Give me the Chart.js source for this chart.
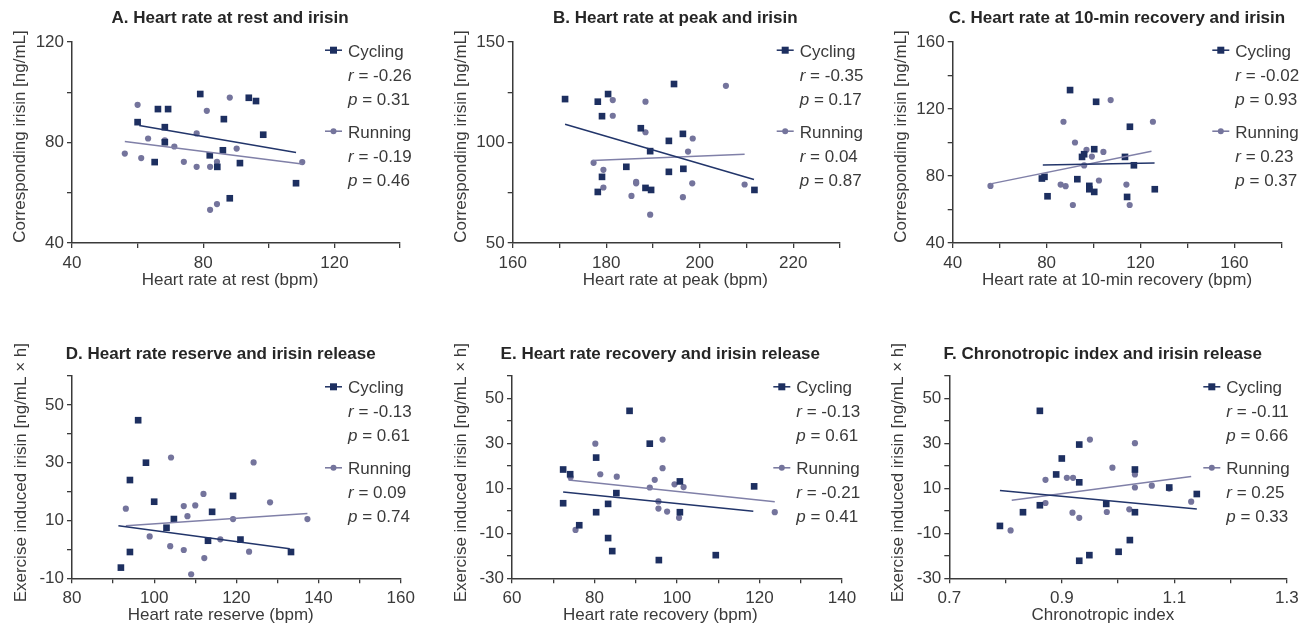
<!DOCTYPE html>
<html>
<head>
<meta charset="utf-8">
<script src="https://cdn.jsdelivr.net/npm/chart.js@4.4.1/dist/chart.umd.min.js"></script>
<style>
  html, body { margin: 0; padding: 0; background: #fff; }
  #wrap { position: relative; width: 1309px; height: 628px; overflow: hidden; }
  #wrap canvas { position: absolute; }
</style>
</head>
<body>
<div id="wrap"></div>
<script>
// ---- data: [x, y] pairs ----
const restCycling = [[60.0,88.1],[66.2,93.3],[69.3,93.3],[68.3,86.1],[68.3,80.1],[65.2,72.2],[79.1,99.3],[86.3,89.3],[93.9,97.8],[96.1,96.5],[98.3,83.1],[86.0,76.9],[82.0,74.9],[84.3,70.3],[91.2,71.8],[88.1,57.8],[108.3,63.8]];
const restRunning = [[56.1,75.6],[60.0,95.0],[61.1,73.8],[63.2,81.6],[68.3,80.9],[71.2,78.4],[74.1,72.3],[78.0,83.6],[78.0,70.3],[81.1,92.6],[82.1,70.3],[84.2,72.3],[88.1,97.9],[90.2,77.6],[110.2,72.2],[84.2,55.5],[82.1,53.2]];
const restCyclingFit = [[60.5,86.8],[108.3,76.0]];
const restRunningFit = [[56.1,80.4],[110.2,71.4]];

const peakCycling = [[171.2,121.6],[178.2,120.3],[180.4,124.1],[179.1,113.1],[194.5,129.1],[187.4,107.1],[193.4,100.8],[196.4,104.3],[189.4,95.7],[184.3,87.9],[179.1,82.9],[178.2,75.4],[188.4,77.4],[189.6,76.4],[193.4,85.4],[196.5,86.9],[211.7,76.4]];
const peakRunning = [[181.4,121.1],[181.4,113.3],[188.4,120.3],[205.6,128.2],[188.4,105.1],[198.5,102.0],[197.5,95.5],[177.3,89.9],[179.4,86.4],[186.4,80.4],[186.4,79.7],[179.4,77.6],[185.4,73.4],[198.4,79.7],[196.4,72.8],[189.4,64.1],[209.6,79.1]];
const peakCyclingFit = [[171.2,109.1],[211.6,81.6]];
const peakRunningFit = [[177.0,91.0],[209.6,94.2]];

const recCycling = [[90.0,131.3],[101.1,124.3],[115.5,109.4],[100.3,96.0],[96.0,93.0],[95.1,91.4],[113.4,91.4],[117.2,86.4],[78.0,78.5],[79.1,79.5],[93.1,78.1],[98.2,74.1],[98.2,72.1],[100.3,70.5],[80.4,67.9],[114.3,67.5],[126.1,72.1]];
const recRunning = [[56.1,74.1],[87.2,112.4],[107.3,125.3],[125.3,112.4],[92.1,100.0],[97.0,95.6],[104.2,94.4],[99.3,91.6],[96.0,86.3],[86.0,74.9],[88.1,73.9],[102.3,77.3],[114.0,74.9],[91.2,62.7],[115.4,62.7]];
const recCyclingFit = [[78.4,86.6],[126.0,87.8]];
const recRunningFit = [[56.1,75.3],[124.7,94.8]];

const resCycling = [[96.1,44.7],[98.0,30.0],[94.1,24.0],[100.0,16.5],[104.8,10.5],[103.0,7.5],[114.1,13.0],[119.2,18.5],[113.1,3.0],[121.0,3.4],[94.1,-0.9],[91.9,-6.3],[133.3,-0.9]];
const resRunning = [[104.1,31.8],[124.2,30.1],[112.0,19.2],[128.2,16.3],[107.2,15.0],[110.0,15.2],[93.1,14.1],[108.1,11.5],[119.2,10.5],[137.3,10.5],[98.9,4.5],[116.1,3.5],[103.9,1.1],[107.2,-0.2],[123.1,-0.8],[112.2,-3.0],[109.0,-8.6]];
const resCyclingFit = [[91.3,8.2],[133.0,0.2]];
const resRunningFit = [[93.1,8.2],[137.3,12.4]];

const hrrCycling = [[88.5,44.5],[93.4,29.9],[80.4,23.7],[72.4,18.4],[74.1,16.3],[100.7,13.1],[118.7,10.9],[85.3,7.9],[72.4,3.4],[83.3,3.1],[80.4,-0.6],[100.7,-0.6],[76.3,-6.4],[83.3,-12.1],[84.3,-17.9],[95.6,-21.9],[109.4,-19.7]];
const hrrRunning = [[80.2,29.9],[96.5,31.7],[96.5,19.0],[81.4,16.3],[85.4,15.2],[74.2,14.9],[94.6,13.8],[93.4,10.4],[99.4,11.8],[101.6,10.6],[95.5,4.2],[95.5,1.0],[97.6,-0.3],[100.5,-3.1],[123.7,-0.6],[75.4,-8.5]];
const hrrCyclingFit = [[72.4,8.4],[118.5,-0.2]];
const hrrRunningFit = [[73.7,13.7],[123.7,4.1]];

const ciCycling = [[0.861,44.5],[0.931,29.5],[0.900,23.3],[0.890,16.2],[0.931,12.7],[1.030,18.4],[1.091,10.4],[1.140,7.5],[0.861,2.5],[0.979,3.1],[0.831,-0.6],[1.030,-0.6],[0.790,-6.7],[1.021,-13.0],[1.001,-18.2],[0.949,-19.7],[0.931,-22.2]];
const ciRunning = [[0.950,31.7],[1.030,30.1],[0.990,19.2],[1.030,16.2],[0.909,14.7],[0.920,14.7],[0.871,13.8],[1.060,11.2],[1.030,10.4],[1.091,9.9],[0.871,3.5],[1.130,4.1],[0.919,-0.8],[0.980,-0.5],[1.020,0.7],[0.931,-3.1],[0.809,-8.7]];
const ciCyclingFit = [[0.790,9.1],[1.140,0.8]];
const ciRunningFit = [[0.811,4.7],[1.130,15.3]];

// stats printed in each legend
const rCycling = ['-0.26', '-0.35', '-0.02', '-0.13', '-0.13', '-0.11'];
const pCycling = ['0.31', '0.17', '0.93', '0.61', '0.61', '0.66'];
const rRunning = ['-0.19', '0.04', '0.23', '0.09', '-0.21', '0.25'];
const pRunning = ['0.46', '0.87', '0.37', '0.74', '0.41', '0.33'];

// text
const panelTitles = [
  'A. Heart rate at rest and irisin',
  'B. Heart rate at peak and irisin',
  'C. Heart rate at 10-min recovery and irisin',
  'D. Heart rate reserve and irisin release',
  'E. Heart rate recovery and irisin release',
  'F. Chronotropic index and irisin release'
];
const xTitles = [
  'Heart rate at rest (bpm)',
  'Heart rate at peak (bpm)',
  'Heart rate at 10-min recovery (bpm)',
  'Heart rate reserve (bpm)',
  'Heart rate recovery (bpm)',
  'Chronotropic index'
];
const yTitles = [
  'Corresponding irisin [ng/mL]',
  'Corresponding irisin [ng/mL]',
  'Corresponding irisin [ng/mL]',
  'Exercise induced irisin [ng/mL \u00d7 h]',
  'Exercise induced irisin [ng/mL \u00d7 h]',
  'Exercise induced irisin [ng/mL \u00d7 h]'
];

// labelled ticks (the others are unlabelled minor ticks)
const xTickLabels = [[40, 80, 120], [160, 180, 200, 220], [40, 80, 120, 160], [80, 100, 120, 140, 160], [60, 80, 100, 120, 140], [0.7, 0.9, 1.1, 1.3]];
const yTickLabels = [[40, 80, 120], [50, 100, 150], [40, 80, 120, 160], [-10, 10, 30, 50], [-30, -10, 10, 30, 50], [-30, -10, 10, 30, 50]];

// ---- layout (page pixels) ----
const panels = [
  { cv: [0, 0, 440, 314],   plot: [72, 42, 400, 243],      x: [40, 140, 20],   y: [40, 120, 20],  titleX: 230,    lineX: 325,    legY: 56.7 },
  { cv: [430, 0, 440, 314], plot: [512.7, 42, 840, 243],   x: [160, 230, 10],  y: [50, 150, 25],  titleX: 675.3,  lineX: 776.7,  legY: 56.7 },
  { cv: [860, 0, 449, 314], plot: [952.7, 42, 1281.3, 243], x: [40, 180, 20],  y: [40, 160, 20],  titleX: 1117,   lineX: 1212.3, legY: 56.7 },
  { cv: [0, 314, 440, 314], plot: [72, 376, 400.7, 578.3], x: [80, 160, 10],   y: [-10, 60, 10],  titleX: 220.7,  lineX: 325,    legY: 393.3 },
  { cv: [430, 314, 440, 314], plot: [512, 376, 842, 578.3], x: [60, 140, 10],  y: [-30, 60, 10],  titleX: 660.3,  lineX: 773.3,  legY: 393.3 },
  { cv: [860, 314, 449, 314], plot: [949.3, 376, 1286.8, 578.3], x: [0.7, 1.3, 0.1], y: [-30, 60, 10], titleX: 1102.8, lineX: 1203.3, legY: 393.3 }
];
const Y_AXIS_W = 44;   // room for the y tick labels
const X_AXIS_H = 34;   // room for the x tick labels

const FONT = "'Liberation Sans', Arial, Helvetica, sans-serif";
const INK = '#3a3a3a';
const NAVY = '#1d2f60';
const LAV = '#74749c';
const NAVY_LINE = '#22356a';
const LAV_LINE = '#8080a8';

const pts = arr => arr.map(p => ({ x: p[0], y: p[1] }));
const fmt = v => Number.isInteger(Math.round(v * 1000) / 1000) ? String(Math.round(v)) : v.toFixed(1);

// titles, axis titles and the little legend with r / p
const panelText = {
  id: 'panelText',
  afterDraw(chart, args, o) {
    const ctx = chart.ctx;
    ctx.save();
    ctx.fillStyle = '#262626';
    ctx.textAlign = 'center';
    ctx.textBaseline = 'alphabetic';
    ctx.font = 'bold 17px ' + FONT;
    ctx.fillText(o.title, o.titleX, o.titleY);

    ctx.fillStyle = INK;
    ctx.font = '17px ' + FONT;
    ctx.fillText(o.xTitle, o.titleX, o.xTitleY);

    ctx.save();
    ctx.translate(o.yTitleX, o.yTitleY);
    ctx.rotate(-Math.PI / 2);
    ctx.fillText(o.yTitle, 0, 0);
    ctx.restore();

    // legend
    ctx.textAlign = 'left';
    const rows = [0, 24, 48, 81, 105, 129];
    const tx = o.lineX + 23;
    const marker = (y, color, square) => {
      ctx.strokeStyle = color;
      ctx.lineWidth = 1.5;
      ctx.beginPath();
      ctx.moveTo(o.lineX, y);
      ctx.lineTo(o.lineX + 17, y);
      ctx.stroke();
      ctx.fillStyle = color;
      if (square) {
        ctx.fillRect(o.lineX + 5, y - 3.5, 7, 7);
      } else {
        ctx.beginPath();
        ctx.arc(o.lineX + 8.5, y, 3, 0, Math.PI * 2);
        ctx.fill();
      }
    };
    const stat = (letter, val, y) => {
      ctx.fillStyle = INK;
      ctx.font = 'italic 17px ' + FONT;
      ctx.fillText(letter, tx, y);
      const w = ctx.measureText(letter).width;
      ctx.font = '17px ' + FONT;
      ctx.fillText(' = ' + val, tx + w, y);
    };
    const y0 = o.legY;
    marker(y0 + rows[0] - 6.5, NAVY, true);
    ctx.fillStyle = INK;
    ctx.font = '17px ' + FONT;
    ctx.fillText('Cycling', tx, y0 + rows[0]);
    stat('r', o.rc, y0 + rows[1]);
    stat('p', o.pc, y0 + rows[2]);
    marker(y0 + rows[3] - 6.5, LAV, false);
    ctx.fillStyle = INK;
    ctx.font = '17px ' + FONT;
    ctx.fillText('Running', tx, y0 + rows[3]);
    stat('r', o.rr, y0 + rows[4]);
    stat('p', o.pr, y0 + rows[5]);
    ctx.restore();
  }
};

function axis(position, range, labels, padding) {
  return {
    type: 'linear',
    position: position,
    min: range[0],
    max: range[1],
    afterFit(s) {
      if (position === 'left') s.width = Y_AXIS_W; else s.height = X_AXIS_H;
    },
    border: { display: true, color: INK, width: 1.5 },
    grid: { display: true, drawOnChartArea: false, drawTicks: true, tickLength: 5, color: INK, lineWidth: 1.3 },
    ticks: {
      stepSize: range[2],
      autoSkip: false,
      maxRotation: 0,
      padding: padding,
      color: INK,
      font: { family: FONT, size: 17 },
      callback: v => labels.some(l => Math.abs(l - v) < 1e-6) ? fmt(v) : ''
    }
  };
}

function drawPanel(i, cyc, run, cycFit, runFit) {
  const p = panels[i];
  const [cx, cy, cw, ch] = p.cv;
  const [l, t, r, b] = p.plot;
  const canvas = document.createElement('canvas');
  canvas.width = cw;
  canvas.height = ch;
  canvas.style.left = cx + 'px';
  canvas.style.top = cy + 'px';
  canvas.style.width = cw + 'px';
  canvas.style.height = ch + 'px';
  document.getElementById('wrap').appendChild(canvas);
  const top = cy === 0;

  new Chart(canvas, {
    type: 'scatter',
    data: {
      datasets: [
        { label: 'Cycling fit', type: 'line', data: pts(cycFit), borderColor: NAVY_LINE, borderWidth: 1.5, pointRadius: 0, fill: false, order: 0 },
        { label: 'Running fit', type: 'line', data: pts(runFit), borderColor: LAV_LINE, borderWidth: 1.5, pointRadius: 0, fill: false, order: 0 },
        { label: 'Cycling', data: pts(cyc), pointStyle: 'rect', pointRadius: 4.7, backgroundColor: NAVY, borderWidth: 0, order: 1 },
        { label: 'Running', data: pts(run), pointStyle: 'circle', pointRadius: 3.1, backgroundColor: LAV, borderWidth: 0, order: 1 }
      ]
    },
    options: {
      responsive: false,
      animation: false,
      devicePixelRatio: 1,
      clip: false,
      layout: {
        padding: {
          left: l - cx - Y_AXIS_W,
          top: t - cy,
          right: cx + cw - r,
          bottom: cy + ch - b - X_AXIS_H
        }
      },
      plugins: {
        legend: { display: false },
        tooltip: { enabled: false },
        panelText: {
          title: panelTitles[i],
          titleX: p.titleX - cx,
          titleY: (top ? 23 : 359) - cy,
          xTitle: xTitles[i],
          xTitleY: b + 42 - cy,
          yTitle: yTitles[i],
          yTitleX: l - (top ? 47 : 46) - cx,
          yTitleY: (t + b) / 2 - (top ? 6 : 4.5) - cy,
          lineX: p.lineX - cx,
          legY: p.legY - cy,
          rc: rCycling[i], pc: pCycling[i], rr: rRunning[i], pr: pRunning[i]
        }
      },
      scales: {
        x: axis('bottom', p.x, xTickLabels[i], 5),
        y: axis('left', p.y, yTickLabels[i], 3)
      }
    },
    plugins: [panelText]
  });
}

drawPanel(0, restCycling, restRunning, restCyclingFit, restRunningFit);
drawPanel(1, peakCycling, peakRunning, peakCyclingFit, peakRunningFit);
drawPanel(2, recCycling, recRunning, recCyclingFit, recRunningFit);
drawPanel(3, resCycling, resRunning, resCyclingFit, resRunningFit);
drawPanel(4, hrrCycling, hrrRunning, hrrCyclingFit, hrrRunningFit);
drawPanel(5, ciCycling, ciRunning, ciCyclingFit, ciRunningFit);
</script>
</body>
</html>
